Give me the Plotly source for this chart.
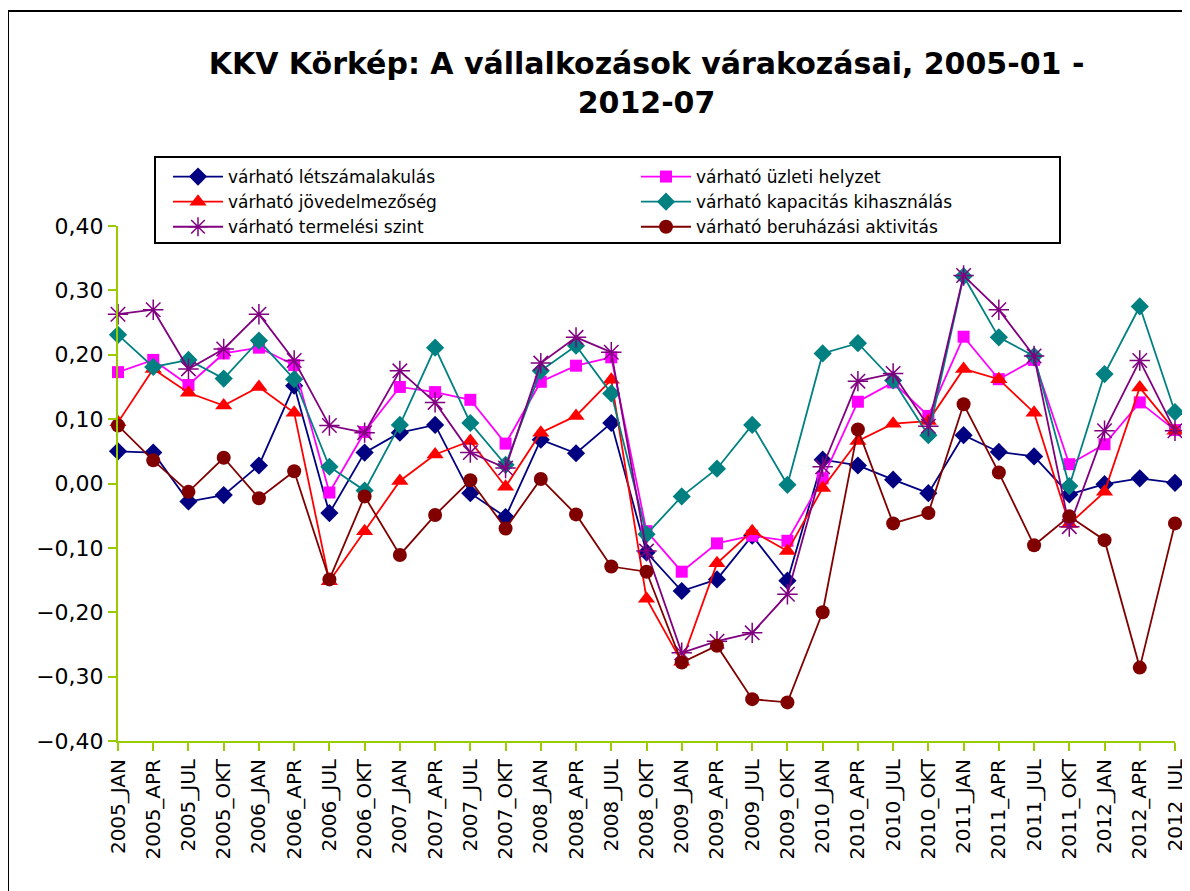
import plotly.graph_objects as go

categories = ["2005_JAN", "2005_APR", "2005_JUL", "2005_OKT",
              "2006_JAN", "2006_APR", "2006_JUL", "2006_OKT",
              "2007_JAN", "2007_APR", "2007_JUL", "2007_OKT",
              "2008_JAN", "2008_APR", "2008_JUL", "2008_OKT",
              "2009_JAN", "2009_APR", "2009_JUL", "2009_OKT",
              "2010_JAN", "2010_APR", "2010_JUL", "2010_OKT",
              "2011_JAN", "2011_APR", "2011_JUL", "2011_OKT",
              "2012_JAN", "2012_APR", "2012_JUL"]

letszam = [0.050, 0.048, -0.028, -0.018, 0.028, 0.152, -0.046, 0.048, 0.079, 0.091, -0.015, -0.052,
           0.068, 0.047, 0.094, -0.107, -0.167, -0.149, -0.081, -0.151, 0.037, 0.028, 0.006, -0.015,
           0.075, 0.049, 0.042, -0.017, -0.001, 0.008, 0.001]
uzleti = [0.173, 0.192, 0.153, 0.202, 0.211, 0.184, -0.014, 0.080, 0.150, 0.142, 0.130, 0.062,
          0.158, 0.183, 0.196, -0.074, -0.137, -0.093, -0.081, -0.089, 0.008, 0.127, 0.157, 0.105,
          0.228, 0.162, 0.192, 0.030, 0.061, 0.126, 0.083]
jovedelem = [0.095, 0.178, 0.141, 0.121, 0.150, 0.110, -0.152, -0.074, 0.004, 0.045, 0.066, -0.005,
             0.079, 0.105, 0.161, -0.179, -0.277, -0.124, -0.074, -0.105, -0.007, 0.066, 0.093, 0.097,
             0.178, 0.162, 0.110, -0.063, -0.013, 0.149, 0.082]
kapacitas = [0.231, 0.181, 0.192, 0.163, 0.222, 0.162, 0.026, -0.011, 0.091, 0.211, 0.094, 0.029,
             0.175, 0.214, 0.140, -0.079, -0.020, 0.023, 0.091, -0.002, 0.202, 0.218, 0.160, 0.075,
             0.322, 0.227, 0.198, -0.004, 0.170, 0.275, 0.111]
termeles = [0.263, 0.270, 0.178, 0.209, 0.263, 0.191, 0.090, 0.079, 0.175, 0.126, 0.048, 0.024,
            0.187, 0.227, 0.204, -0.105, -0.263, -0.245, -0.232, -0.172, 0.026, 0.159, 0.171, 0.089,
            0.323, 0.270, 0.198, -0.067, 0.082, 0.191, 0.082]
beruhazas = [0.090, 0.036, -0.013, 0.040, -0.023, 0.019, -0.149, -0.020, -0.111, -0.049, 0.005, -0.070,
             0.007, -0.048, -0.129, -0.137, -0.278, -0.252, -0.335, -0.340, -0.200, 0.084, -0.062, -0.046,
             0.123, 0.017, -0.096, -0.051, -0.088, -0.286, -0.062]

series = [
    ("várható létszámalakulás", letszam, "#000080", "diamond", 14),
    ("várható üzleti helyzet", uzleti, "#FF00FF", "square", 12),
    ("várható jövedelmezőség", jovedelem, "#FF0000", "triangle-up", 15),
    ("várható kapacitás kihasználás", kapacitas, "#008080", "diamond", 14),
    ("várható termelési szint", termeles, "#800080", "asterisk-open", 17),
    ("várható beruházási aktivitás", beruhazas, "#800000", "circle", 14),
]

fig = go.Figure()
for name, vals, color, sym, size in series:
    fig.add_trace(go.Scatter(
        x=categories, y=vals, name=name, mode="lines+markers",
        line=dict(color=color, width=1.8),
        marker=dict(symbol=sym, size=size, color=color,
                    line=dict(color=color, width=1.5 if sym == "asterisk-open" else 0)),
        cliponaxis=False,
    ))

axis_green = "#99CC00"
# the page adds an 8px body margin, so the figure is drawn 8px right/down
W, H = 1182, 883
L, R, T, B = 110, 15, 218, 150
PW, PH = W - L - R, H - T - B

fig.update_layout(
    width=W, height=H,
    paper_bgcolor="white", plot_bgcolor="white",
    margin=dict(l=L, r=R, t=T, b=B, autoexpand=False),
    separators=", ",
    font=dict(family="DejaVu Sans, Open Sans, sans-serif", color="black"),
    title=dict(
        text="<b>KKV Körkép: A vállalkozások várakozásai, 2005-01 -<br>2012-07</b>",
        x=0.5, xref="paper", xanchor="center",
        y=0.925, yref="container", yanchor="top",
        font=dict(size=30, family="DejaVu Sans, Open Sans, sans-serif"),
    ),
    showlegend=True,
    legend=dict(
        orientation="h", x=(160 - L) / PW, xanchor="left",
        y=1 + (T - 151) / PH, yanchor="top",
        entrywidth=403, entrywidthmode="pixels",
        font=dict(size=17), bgcolor="rgba(0,0,0,0)", borderwidth=0,
        traceorder="normal", itemwidth=50, tracegroupgap=0,
    ),
    xaxis=dict(
        type="category", range=[0, 30], showgrid=False,
        showline=True, linecolor=axis_green, linewidth=2,
        ticks="outside", tickcolor=axis_green, ticklen=8, tickwidth=2,
        tickangle=-90, tickfont=dict(size=20), fixedrange=True,
    ),
    yaxis=dict(
        range=[-0.40, 0.40], dtick=0.10, tick0=0, tickformat=".2f",
        showgrid=False, zeroline=False,
        showline=True, linecolor=axis_green, linewidth=2,
        ticks="outside", tickcolor=axis_green, ticklen=8, tickwidth=2,
        tickfont=dict(size=22), fixedrange=True,
    ),
)
# legend frame
fig.add_shape(type="rect", xref="paper", yref="paper",
              x0=(147 - L) / PW, x1=(1052 - L) / PW,
              y0=1 + (T - 235) / PH, y1=1 + (T - 149) / PH,
              line=dict(color="black", width=2), fillcolor="rgba(0,0,0,0)", layer="above")
# outer chart frame (extends beyond canvas on right and bottom)
fig.add_shape(type="rect", xref="paper", yref="paper",
              x0=(0 - L) / PW, x1=(1200 - L) / PW,
              y0=-2, y1=1 + (T - 3) / PH,
              line=dict(color="black", width=2), fillcolor="rgba(0,0,0,0)")

fig.write_html("out.html")
